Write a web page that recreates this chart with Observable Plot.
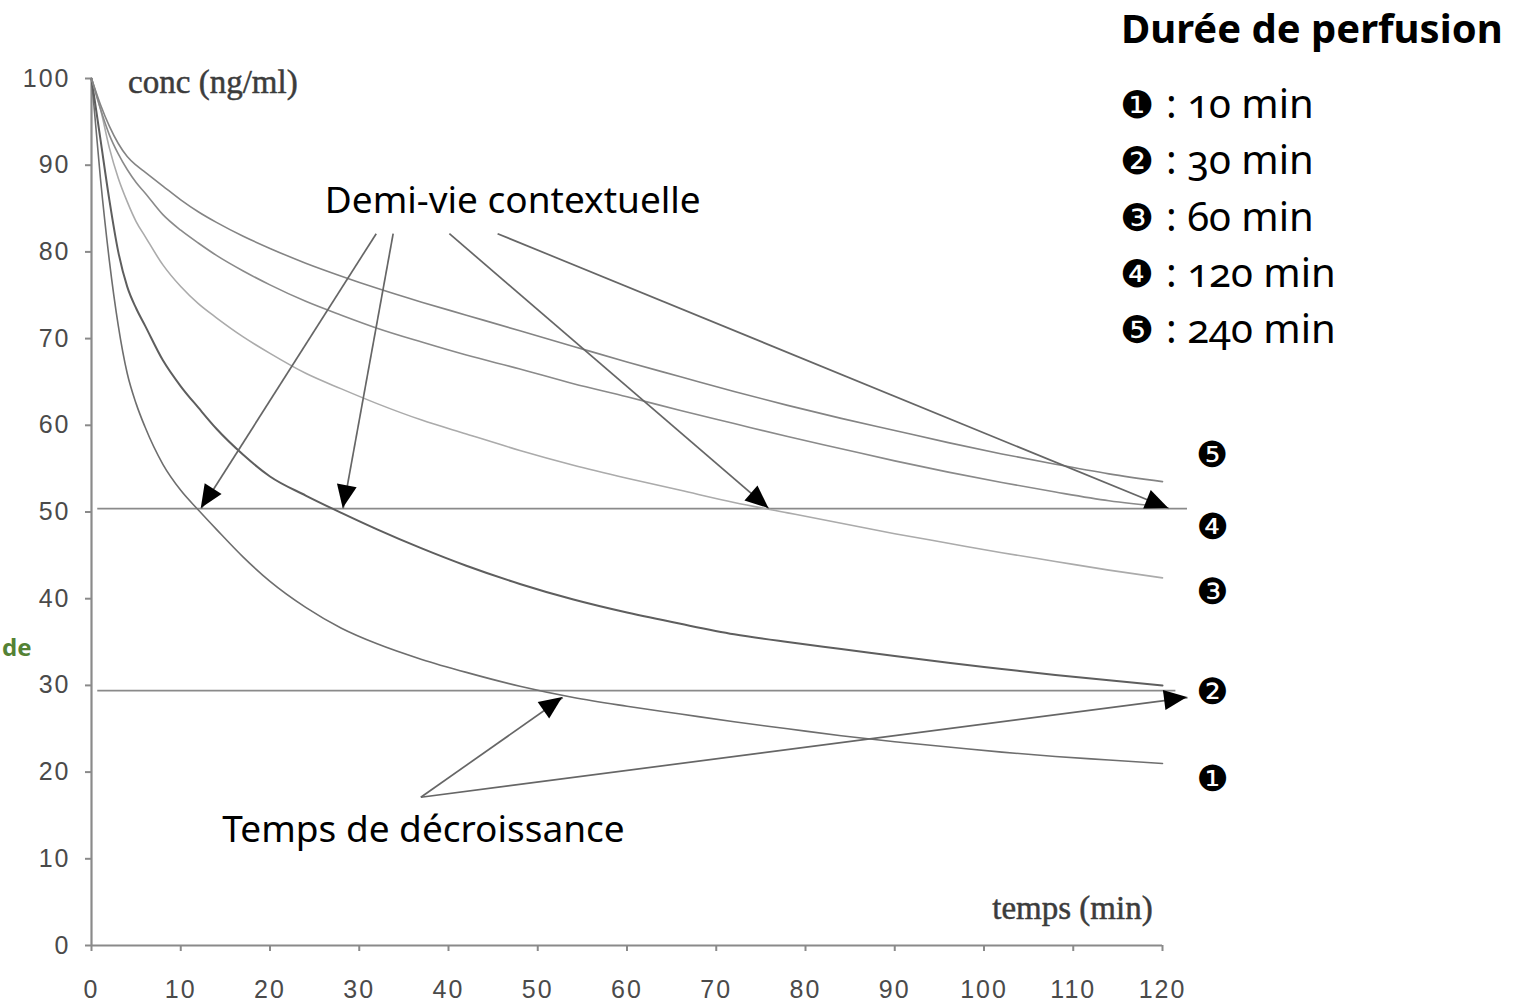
<!DOCTYPE html>
<html lang="fr">
<head>
<meta charset="utf-8">
<script src="https://cdn.jsdelivr.net/npm/d3@7"></script>
<script src="https://cdn.jsdelivr.net/npm/@observablehq/plot@0.6"></script>
<style>
  body { margin: 0; background: #fff; }
  #fig { position: relative; width: 1526px; height: 1007px; overflow: hidden; background: #fff; }
  #fig svg { position: absolute; left: 0; top: 0; }
  #fig svg [aria-label$="tick label"] text { letter-spacing: 2px; }
  .legend { position: absolute; left: 1120px; top: 0; font-family: "Noto Sans", sans-serif; color: #000; }
  .legend h2 { margin: 0; position: absolute; top: 2px; left: 1px; font-size: 40px; font-weight: 700; white-space: nowrap; line-height: 52px; }
  .legend .item { position: absolute; left: 0; white-space: nowrap; font-size: 40px; line-height: 50px; font-variant-numeric: oldstyle-nums; }
  .legend .item .num { font-family: "DejaVu Sans", sans-serif; font-size: 38px; margin-right: 12px; }
  .cut { position: absolute; left: 2px; top: 630px; font-family: "Noto Sans", sans-serif; font-weight: 700; font-size: 24px; color: #548235; }
</style>
</head>
<body>
<div id="fig"></div>
<script>
// Sampling times (min) shared by every infusion curve
const times = [0, 1, 2, 3, 4, 5, 6, 8, 10, 12, 14, 17, 20, 24, 28, 32, 37, 42, 48, 54, 60, 66, 72, 78, 84, 90, 96, 102, 108, 114, 120];

// Plasma concentration (ng/ml) after stopping an infusion of the given duration
const conc10min  = [100, 88.5, 79, 71.5, 66, 62.5, 59.8, 55.5, 52.5, 50.2, 48, 44.8, 42.0, 39.0, 36.6, 34.8, 33.0, 31.5, 29.9, 28.6, 27.6, 26.7, 25.8, 25.0, 24.2, 23.5, 22.9, 22.3, 21.8, 21.4, 21.0];
const conc30min  = [100, 93, 86, 80, 76, 73.5, 71.5, 67.5, 64.5, 62, 59.6, 56.6, 54.1, 51.9, 49.9, 48.0, 45.8, 43.8, 41.7, 39.9, 38.4, 37.1, 35.9, 35.0, 34.2, 33.4, 32.6, 31.9, 31.2, 30.6, 30.0];
const conc60min  = [100, 96.5, 92, 88.5, 85.8, 83.5, 81.8, 78.5, 76, 74, 72.4, 70.2, 68.3, 66, 64.2, 62.5, 60.6, 59, 57.1, 55.4, 53.9, 52.5, 51.1, 49.9, 48.7, 47.5, 46.4, 45.3, 44.3, 43.3, 42.4];
const conc120min = [100, 96.5, 93.5, 91.3, 89.5, 88, 86.8, 84.3, 82.5, 81, 79.6, 77.8, 76.2, 74.3, 72.7, 71.2, 69.6, 68.1, 66.5, 64.8, 63.3, 61.7, 60.2, 58.7, 57.3, 55.9, 54.6, 53.4, 52.3, 51.3, 50.6];
const conc240min = [100, 97, 94.5, 92.5, 91, 90, 89.2, 87.6, 86, 84.6, 83.4, 81.8, 80.4, 78.7, 77.2, 75.8, 74.2, 72.7, 70.9, 69.1, 67.3, 65.6, 63.9, 62.3, 60.8, 59.4, 58, 56.7, 55.5, 54.4, 53.5];

const durations = ["10 min", "30 min", "60 min", "120 min", "240 min"];
const markers = ["❶", "❷", "❸", "❹", "❺"];
const seriesValues = [conc10min, conc30min, conc60min, conc120min, conc240min];

// Axis ticks
const xTicks = d3.range(0, 121, 10);
const yTicks = d3.range(0, 101, 10);

// Reference levels: 50 % (context-sensitive half-time) and 70 % decrement
const halfLevel = 50.4;
const decrementLevel = 29.4;

// Context-sensitive half-times (min) pointed at, and where their arrows leave the caption
const halfLifeTimes = [12.3, 28.2, 75.9, 120.7];
const halfLifeFromX = [31.9, 33.8, 40.1, 45.5];
const halfLifeFromY = 82.1;

// Decrement times pointed at from the lower caption
const decrementFrom = [36.9, 17.1];
const decrementTimes = [52.8, 122.8];
const decrementTipY = 28.6;

// Captions placed in data space
const captions = [
  {text: "Demi-vie contextuelle", t: 47.2, c: 85.9},
  {text: "Temps de décroissance", t: 37.2, c: 13.3}
];
const concTitle = {text: "conc (ng/ml)", t: 4.1, c: 99.6};
const timeTitle = {text: "temps (min)", t: 118.9, c: 4.3};

// Styling per series
const seriesStroke = ["#6e6e6e", "#5e5e5e", "#ababab", "#8a8a8a", "#848484"];
const seriesWidth = [1.6, 2.0, 1.6, 1.6, 1.6];
const markerDy = [16, 7, 15, 21, -26];

const rows = seriesValues.flatMap((vals, i) =>
  times.map((t, j) => ({series: durations[i], t, c: vals[j]}))
);

const arrows = [
  ...halfLifeTimes.map((t, i) => ({x1: halfLifeFromX[i], y1: halfLifeFromY, x2: t, y2: halfLevel})),
  ...decrementTimes.map(t => ({x1: decrementFrom[0], y1: decrementFrom[1], x2: t, y2: decrementTipY}))
];

// Filled triangular arrowheads oriented along each arrow, drawn through the plot scales
function arrowHeads(list) {
  return (index, scales) => {
    const g = d3.create("svg:g").attr("fill", "#000");
    for (const a of list) {
      const x1 = scales.x(a.x1), y1 = scales.y(a.y1), x2 = scales.x(a.x2), y2 = scales.y(a.y2);
      const ang = Math.atan2(y2 - y1, x2 - x1) * 180 / Math.PI;
      g.append("path")
        .attr("d", "M0,0L-23,-10L-23,10Z")
        .attr("transform", `translate(${x2},${y2}) rotate(${ang})`);
    }
    return g.node();
  };
}

const serif = "'Liberation Serif', 'DejaVu Serif', serif";
const sans = "'Liberation Sans', Arial, sans-serif";
const textFont = "'Noto Sans', sans-serif";

const chart = Plot.plot({
  width: 1526,
  height: 1007,
  marginLeft: 91,
  marginRight: 364,
  marginTop: 78,
  marginBottom: 62,
  x: {domain: [0, 120], axis: null},
  y: {domain: [0, 100], axis: null},
  style: {background: "transparent", overflow: "visible"},
  marks: [
    Plot.axisY({ticks: yTicks, tickSize: 6, tickPadding: 15, stroke: "#8a8a8a", strokeWidth: 2, fill: "#4a4a4a", fontSize: 25, fontFamily: sans, label: null}),
    Plot.axisX({ticks: xTicks, tickSize: 6, tickPadding: 29, stroke: "#8a8a8a", strokeWidth: 2, fill: "#4a4a4a", fontSize: 25, fontFamily: sans, label: null}),
    Plot.ruleX([0], {y1: 0, y2: 100, stroke: "#8a8a8a", strokeWidth: 2.2}),
    Plot.ruleY([0], {x1: 0, x2: 120, stroke: "#8a8a8a", strokeWidth: 2.2}),
    Plot.ruleY([halfLevel], {x1: 0.7, x2: 122.8, stroke: "#8a8a8a", strokeWidth: 1.8}),
    Plot.ruleY([decrementLevel], {x1: 0.7, x2: 121.5, stroke: "#8a8a8a", strokeWidth: 1.8}),
    ...durations.map((d, i) =>
      Plot.line(rows.filter(r => r.series === d), {x: "t", y: "c", curve: "monotone-x", stroke: seriesStroke[i], strokeWidth: seriesWidth[i]})
    ),
    Plot.link(arrows, {x1: "x1", y1: "y1", x2: "x2", y2: "y2", stroke: "#666", strokeWidth: 1.7}),
    arrowHeads(arrows),
    Plot.text(captions, {x: "t", y: "c", text: "text", fontFamily: textFont, fontSize: 37, fill: "#000"}),
    Plot.text([concTitle], {x: "t", y: "c", text: "text", textAnchor: "start", fontFamily: serif, fontSize: 33, fill: "#3c3c3c", stroke: "#3c3c3c", strokeWidth: 0.5}),
    Plot.text([timeTitle], {x: "t", y: "c", text: "text", textAnchor: "end", fontFamily: serif, fontSize: 33, fill: "#3c3c3c", stroke: "#3c3c3c", strokeWidth: 0.5}),
    // circled series numbers beside the end of each curve
    ...seriesValues.map((vals, i) =>
      Plot.text([{t: times[times.length - 1], c: vals[vals.length - 1], label: markers[i]}], {
        x: "t", y: "c", text: "label", dx: 50, dy: markerDy[i],
        fontFamily: "'DejaVu Sans', sans-serif", fontSize: 36, fill: "#000"
      })
    )
  ]
});

const fig = document.getElementById("fig");
fig.appendChild(chart);

// Legend: infusion durations
const legend = document.createElement("div");
legend.className = "legend";
const title = document.createElement("h2");
title.textContent = "Durée de perfusion";
legend.appendChild(title);
durations.forEach((d, i) => {
  const item = document.createElement("div");
  item.className = "item";
  item.style.top = (78 + i * 56.3) + "px";
  const num = document.createElement("span");
  num.className = "num";
  num.textContent = markers[i];
  item.appendChild(num);
  item.appendChild(document.createTextNode(": " + d));
  legend.appendChild(item);
});
fig.appendChild(legend);

const cut = document.createElement("div");
cut.className = "cut";
cut.textContent = "de";
fig.appendChild(cut);
</script>
</body>
</html>
